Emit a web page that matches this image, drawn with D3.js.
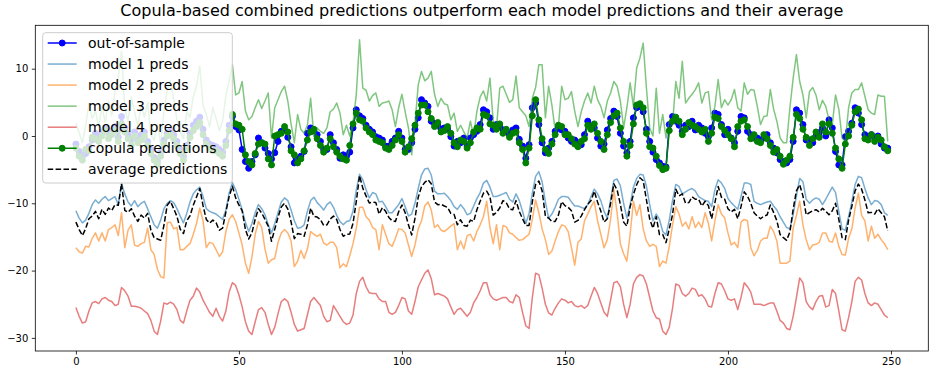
<!DOCTYPE html>
<html>
<head>
<meta charset="utf-8">
<script src="https://cdn.jsdelivr.net/npm/d3@7"></script>
<style>
  body { margin: 0; background: #fff; }
  svg { display: block; font-family: "DejaVu Sans", sans-serif; }
</style>
</head>
<body>
<div class="chart"></div>
<script>
// values, one per time step 0..249
const outOfSample = [
-1.2,-2.3,-3.0,-2.6,-1.6,-0.6,0.4,-0.2,0.6,1.2,
0.4,0.8,1.4,-0.2,2.9,1.2,0.2,-0.6,0.6,-0.4,
0.2,0.6,-0.8,-2.0,-3.2,-3.8,-2.4,-0.6,0.4,0.8,
0.2,-0.8,-2.0,-3.0,-1.4,0.4,1.6,2.2,2.8,1.0,
-0.6,-1.2,-1.4,-1.6,-2.0,-2.4,-0.8,1.6,2.9,1.4,
0.9,-2.0,-3.8,-4.8,-3.8,-2.8,-0.3,-1.0,-1.8,-2.6,
-3.4,-2.5,-0.8,0.7,0.9,-0.2,-1.6,-4.0,-3.4,-3.0,
-2.3,0.4,1.2,0.8,0.2,-0.8,-2.0,-2.0,0.2,-1.0,
-2.0,-3.3,-2.8,-3.0,-2.4,1.2,3.9,3.0,2.6,1.6,
1.0,0.6,-0.1,-0.3,-0.6,-1.5,-1.5,-0.8,-0.3,0.7,
-0.3,-2.0,-2.0,-1.0,1.0,2.7,5.4,4.9,4.4,2.2,
1.9,1.6,1.0,1.2,1.0,-0.1,-1.5,-0.8,-1.0,-0.3,
-1.5,-0.3,0.2,0.7,1.7,3.9,3.6,2.7,1.0,1.7,
1.4,0.9,0.7,0.2,0.9,1.2,-0.5,-1.5,-3.3,-1.3,
4.2,4.9,1.7,-1.0,-2.5,-1.8,-0.8,0.7,1.2,0.9,
0.7,-0.3,-0.8,-0.6,-1.0,-1.3,0.2,2.2,1.4,1.2,
-0.3,-1.5,-1.2,0.9,2.6,3.7,2.9,0.4,-1.5,-2.5,
-0.8,2.7,4.2,4.4,3.6,1.0,-0.8,-2.4,-3.5,-4.0,
-4.5,-4.6,1.7,2.9,2.2,1.6,0.7,1.6,1.4,2.2,
0.9,1.6,1.2,0.4,-0.1,1.2,3.4,3.2,1.7,0.2,
1.0,-0.3,-1.0,0.7,2.9,2.7,0.7,0.2,-0.3,-0.3,
-0.6,-0.3,0.2,-1.0,-1.8,-2.5,-3.5,-3.8,-4.0,-3.5,
-0.8,3.9,3.4,1.7,-0.6,-0.6,-1.0,0.0,0.5,1.2,
0.0,2.4,1.2,-2.3,-4.3,-4.3,-0.1,0.7,1.9,4.2,
3.4,1.7,0.2,-0.1,0.2,-0.3,0.0,-1.2,-1.8,-1.8
];

const model1 = [
-11.1,-12.2,-12.9,-12.5,-11.5,-10.2,-9.5,-10.0,-9.4,-9.0,
-9.6,-9.3,-9.0,-10.2,-7.1,-8.6,-9.8,-10.4,-9.6,-10.5,
-10.0,-9.7,-10.8,-12.0,-13.2,-13.7,-12.5,-10.8,-10.0,-9.6,
-9.9,-10.8,-11.9,-12.9,-11.5,-9.8,-8.6,-8.0,-7.6,-9.0,
-10.8,-11.2,-11.4,-11.6,-12.0,-12.4,-11.0,-8.5,-6.9,-8.0,
-9.4,-11.0,-12.8,-14.2,-13.0,-11.4,-10.2,-10.8,-11.7,-13.2,
-14.4,-13.0,-11.4,-9.8,-9.2,-9.6,-11.0,-12.6,-13.7,-13.6,
-13.2,-11.2,-9.6,-9.1,-9.9,-10.4,-11.0,-10.2,-9.8,-10.6,
-11.8,-12.7,-13.2,-12.7,-12.6,-11.2,-8.0,-5.7,-6.5,-8.0,
-9.2,-8.4,-8.6,-9.8,-9.7,-10.5,-11.4,-11.4,-10.8,-10.2,
-9.3,-10.5,-11.9,-11.6,-10.0,-7.8,-5.8,-4.9,-4.8,-5.8,
-8.2,-8.6,-8.6,-8.5,-9.0,-9.6,-10.5,-10.9,-10.2,-10.8,
-11.7,-11.5,-10.4,-9.3,-8.4,-7.0,-6.6,-7.6,-9.0,-9.0,
-8.8,-8.6,-8.4,-9.4,-9.8,-8.6,-9.6,-11.2,-13.0,-11.5,
-8.5,-6.0,-5.3,-6.8,-9.8,-12.2,-11.6,-10.6,-9.4,-9.0,
-9.0,-9.1,-9.8,-10.4,-10.4,-10.6,-10.8,-10.2,-9.0,-7.9,
-8.6,-9.6,-11.2,-12.2,-9.5,-6.6,-6.4,-7.4,-10.0,-12.2,
-10.2,-7.6,-6.3,-5.7,-5.8,-7.5,-10.2,-12.6,-11.6,-12.4,
-14.2,-14.7,-12.5,-9.6,-7.2,-7.5,-8.6,-8.3,-8.0,-7.8,
-8.2,-9.0,-9.3,-9.6,-9.7,-10.5,-8.0,-6.5,-7.0,-7.8,
-9.3,-9.9,-10.4,-10.9,-9.0,-7.0,-7.0,-7.2,-9.7,-10.0,
-10.2,-10.0,-9.8,-9.7,-10.4,-11.0,-12.0,-12.8,-13.6,-13.8,
-11.7,-8.9,-6.3,-6.8,-9.4,-10.0,-9.5,-9.2,-9.4,-10.2,
-9.4,-8.5,-7.6,-8.4,-11.2,-13.8,-14.0,-12.0,-9.8,-7.2,
-6.0,-6.2,-7.8,-9.2,-10.2,-9.6,-9.7,-10.2,-11.4,-11.8
];

const model2 = [
-16.6,-17.2,-17.4,-16.4,-16.5,-15.2,-14.4,-15.6,-14.4,-15.6,
-13.9,-13.6,-13.2,-14.8,-11.4,-16.6,-14.0,-13.2,-16.2,-16.4,
-16.0,-15.8,-13.7,-16.9,-17.6,-19.8,-20.9,-21.1,-12.9,-12.8,
-13.8,-13.6,-16.9,-16.9,-16.4,-16.0,-14.6,-13.0,-10.7,-12.6,
-16.6,-15.8,-16.0,-16.9,-17.9,-17.2,-14.2,-12.4,-11.7,-12.7,
-14.4,-16.2,-18.9,-20.4,-18.0,-14.6,-12.7,-13.6,-16.8,-18.9,
-18.4,-18.2,-15.8,-14.4,-13.9,-14.4,-15.6,-19.4,-18.6,-17.0,
-18.2,-16.8,-14.2,-14.6,-14.9,-14.6,-15.9,-16.2,-15.8,-15.8,
-16.6,-19.6,-19.0,-19.4,-17.8,-16.0,-13.7,-10.6,-10.6,-12.0,
-12.5,-13.6,-13.9,-16.9,-13.2,-14.6,-16.0,-16.4,-15.2,-13.8,
-13.9,-14.4,-16.2,-17.9,-16.2,-13.8,-12.6,-10.4,-9.8,-11.0,
-13.6,-13.2,-14.0,-14.2,-13.8,-13.4,-13.0,-16.9,-15.6,-16.8,
-14.8,-14.6,-15.6,-14.2,-13.2,-12.0,-9.7,-13.6,-16.0,-13.2,
-16.9,-13.3,-13.5,-14.4,-14.6,-15.1,-15.5,-15.4,-15.0,-14.6,
-12.4,-9.5,-11.4,-13.8,-15.4,-17.6,-17.1,-15.6,-14.2,-13.2,
-13.4,-14.2,-16.6,-19.2,-15.8,-15.3,-12.6,-11.6,-10.5,-9.7,
-12.6,-14.6,-16.6,-15.4,-12.4,-8.0,-11.4,-16.0,-17.5,-18.6,
-14.6,-9.7,-11.8,-10.2,-13.8,-15.6,-16.4,-16.1,-16.4,-19.4,
-18.6,-18.9,-16.4,-13.2,-10.5,-11.6,-13.4,-12.8,-13.8,-12.0,
-13.6,-12.8,-13.6,-11.4,-13.0,-15.6,-12.6,-10.2,-11.6,-12.2,
-14.4,-16.2,-15.8,-16.6,-12.8,-12.4,-12.6,-16.6,-17.8,-17.0,
-15.6,-15.2,-15.2,-13.4,-14.2,-15.6,-18.9,-18.9,-18.9,-18.6,
-13.7,-11.8,-9.7,-13.2,-15.4,-16.9,-16.2,-16.1,-15.8,-14.4,
-14.4,-15.6,-15.8,-14.4,-16.4,-17.6,-17.7,-15.2,-13.8,-10.7,
-8.5,-11.8,-12.6,-15.6,-13.4,-15.2,-14.6,-15.4,-16.0,-16.9
];

const model3 = [
1.9,0.5,-1.0,1.5,4.8,2.6,3.8,1.2,4.4,2.0,
5.2,3.0,6.6,8.8,12.6,4.0,2.2,5.8,3.6,1.4,
4.6,2.8,5.0,0.2,-0.6,1.8,-1.2,3.6,6.8,8.2,
5.4,2.4,0.8,-0.4,3.6,2.8,5.8,7.4,10.4,4.6,
3.2,1.4,4.2,2.6,0.8,2.2,6.0,8.2,10.6,6.1,
6.4,8.1,3.7,2.4,2.9,4.2,5.4,4.1,5.2,6.4,
-0.3,4.2,5.4,6.6,7.4,5.2,1.8,-1.0,3.2,1.0,
0.4,1.6,5.6,-0.1,1.2,0.7,0.4,1.2,3.6,4.0,
4.9,3.4,0.2,1.6,0.0,2.0,6.1,14.3,7.1,6.8,
5.2,6.0,6.4,4.4,4.9,5.0,5.2,3.9,1.4,4.2,
6.2,3.6,1.2,-2.8,1.8,7.6,9.6,8.2,8.6,9.6,
6.2,4.4,5.6,4.8,4.6,2.4,3.4,0.7,1.6,0.6,
-0.3,2.2,0.0,3.7,5.8,6.7,5.2,8.6,2.2,1.2,
7.1,7.4,6.2,5.0,5.4,8.9,4.2,3.6,3.0,1.4,
5.6,7.2,10.6,10.6,2.7,7.4,4.6,0.9,1.4,7.4,
5.4,5.6,6.6,3.7,1.4,3.6,5.2,6.4,4.9,7.4,
5.4,4.4,2.7,5.2,6.4,8.1,7.4,5.2,1.2,4.2,
7.9,4.4,10.1,11.6,13.8,7.1,1.2,0.0,7.1,0.4,
3.2,-0.3,2.2,1.7,8.1,5.6,11.1,4.9,5.6,6.2,
6.9,7.9,4.9,6.4,6.6,2.4,4.4,8.4,4.2,5.4,
4.6,5.4,6.9,4.2,3.7,7.9,6.2,6.9,6.8,4.4,
1.7,2.9,3.0,6.9,4.0,2.2,-0.3,-1.0,-1.0,4.2,
8.6,12.1,8.1,6.1,2.7,6.6,7.2,6.1,3.9,5.3,
4.4,2.4,1.7,6.1,4.0,-0.3,-0.8,4.2,6.4,6.9,
6.9,7.9,5.9,3.9,3.4,3.2,6.1,5.9,5.9,-0.8
];

const model4 = [
-25.5,-26.8,-27.8,-27.6,-26.0,-24.8,-24.6,-24.9,-24.2,-24.0,
-24.4,-24.6,-25.2,-25.0,-22.5,-23.0,-23.8,-25.3,-25.3,-25.4,
-25.6,-26.0,-26.4,-27.4,-29.0,-29.5,-27.5,-24.8,-25.0,-24.7,
-25.0,-25.8,-27.4,-27.8,-26.0,-24.4,-23.8,-22.6,-23.2,-24.4,
-25.3,-26.2,-26.8,-25.6,-26.8,-27.5,-26.0,-23.2,-21.8,-22.2,
-23.6,-25.4,-27.6,-29.0,-29.5,-27.6,-25.8,-25.5,-26.2,-28.0,
-29.5,-28.4,-26.4,-24.6,-24.2,-24.6,-26.2,-28.0,-29.0,-28.8,
-28.6,-26.6,-24.6,-24.0,-24.6,-25.2,-26.8,-27.6,-27.4,-25.2,
-26.0,-26.8,-27.6,-28.0,-27.8,-26.6,-23.4,-21.6,-21.0,-22.4,
-23.3,-23.4,-23.4,-24.2,-24.6,-24.6,-26.2,-26.5,-26.2,-25.2,
-24.0,-24.2,-26.0,-26.5,-24.6,-22.4,-21.4,-20.4,-19.9,-21.2,
-23.6,-23.4,-23.6,-23.8,-24.2,-25.4,-26.5,-25.8,-25.6,-26.2,
-26.8,-26.2,-24.8,-24.0,-23.0,-21.8,-21.8,-23.6,-24.2,-24.4,
-24.2,-24.0,-24.0,-24.6,-24.8,-23.6,-24.0,-26.2,-28.2,-28.6,
-24.0,-20.4,-20.6,-22.6,-25.0,-26.3,-26.6,-25.6,-24.8,-24.2,
-24.4,-24.8,-24.6,-25.2,-25.4,-25.2,-25.6,-25.2,-23.8,-22.5,
-23.4,-24.8,-26.2,-26.8,-24.4,-21.8,-21.6,-22.4,-25.0,-27.0,
-25.0,-22.0,-21.0,-20.6,-20.8,-22.0,-24.0,-26.0,-27.0,-27.2,
-29.0,-29.5,-28.4,-25.6,-22.0,-22.2,-23.4,-23.8,-23.4,-22.6,
-22.8,-23.8,-23.6,-24.2,-25.3,-25.4,-23.4,-21.8,-22.0,-23.0,
-24.2,-24.4,-24.2,-25.8,-24.0,-21.8,-22.4,-23.2,-25.0,-25.0,
-25.0,-25.2,-25.0,-24.8,-24.8,-26.0,-27.4,-27.8,-28.6,-28.8,
-26.8,-24.0,-21.1,-21.8,-24.6,-25.4,-25.8,-24.6,-23.8,-23.7,
-25.4,-25.2,-22.8,-23.4,-26.0,-28.8,-29.0,-27.0,-24.6,-21.6,
-21.0,-21.4,-23.4,-24.8,-25.2,-24.8,-25.0,-25.8,-26.6,-27.0
];

const copula = [
-1.8,-3.0,-3.6,-2.0,-2.2,-0.2,-0.4,-0.8,0.0,0.8,
-0.4,0.2,0.8,-0.8,1.8,0.6,-0.4,-1.4,0.0,-1.0,
-0.6,0.0,-1.4,-2.6,-3.6,-4.2,-3.0,-1.2,0.0,0.2,
-0.4,-1.4,-2.6,-3.6,-2.0,-0.2,0.8,1.4,2.0,0.2,
-1.2,-1.8,-2.2,-2.2,-2.6,-3.0,-1.4,0.8,3.2,1.8,
1.6,1.0,-2.8,-3.8,-4.3,-2.6,-1.2,-1.0,-1.2,-3.4,
-4.3,0.0,0.2,0.4,1.4,0.6,-2.2,-2.8,-4.0,-3.4,
-2.2,-0.6,0.6,1.0,-0.4,-1.4,-2.4,-1.8,-0.4,-1.6,
-2.4,-3.0,-3.4,-3.6,-1.4,1.8,3.4,2.4,2.2,1.2,
0.6,0.2,-0.6,-0.8,-1.0,-1.8,-2.0,-1.4,-0.6,0.2,
-0.8,-2.4,-1.6,-0.4,1.6,3.4,4.6,4.6,3.6,2.6,
1.4,2.0,0.6,0.8,1.4,0.4,-1.0,-1.6,-0.6,-0.8,
-1.8,-1.0,0.6,1.2,1.0,3.2,3.0,1.8,1.6,1.0,
1.8,0.4,1.0,-0.2,0.4,0.6,-1.0,-2.0,-4.0,-1.8,
3.0,5.4,2.4,-0.4,-2.0,-2.6,-1.2,0.2,1.6,1.4,
0.2,0.2,-0.4,-1.2,-1.6,-0.8,-0.4,1.6,1.0,1.8,
0.4,-0.8,-2.0,0.2,2.0,3.0,3.4,1.2,-0.8,-3.0,
-1.4,1.8,4.6,4.8,4.2,0.4,-1.6,-1.8,-3.0,-4.4,
-5.0,-4.8,0.8,2.2,2.8,2.2,0.2,1.0,2.0,1.6,
1.4,1.0,0.6,1.0,-0.8,0.4,2.8,2.6,1.4,0.8,
0.2,-0.4,-1.6,1.4,2.2,2.4,1.4,-0.4,0.2,-0.8,
-1.0,0.2,-0.4,-1.4,-2.4,-2.0,-3.0,-4.2,-3.6,-3.0,
-0.2,3.2,2.6,1.0,-0.2,-1.4,-0.4,0.6,-0.2,1.8,
0.6,1.8,0.4,-1.8,-3.4,-4.8,-1.2,0.0,1.6,3.6,
4.0,2.4,-0.4,-0.6,0.2,-0.8,-0.2,-0.6,-1.6,-2.2
];

const average = [
-12.8,-13.9,-14.8,-13.75,-12.3,-11.9,-11.2,-12.3,-10.9,-11.65,
-10.7,-11.1,-10.2,-10.3,-7.1,-11.05,-11.35,-10.8,-11.9,-12.7,
-11.75,-12.2,-11.5,-14.0,-15.1,-15.3,-15.5,-13.3,-10.3,-9.7,
-10.8,-11.95,-13.85,-14.5,-12.6,-11.85,-10.3,-9.05,-7.8,-10.35,
-12.4,-12.95,-12.5,-12.9,-14.0,-13.7,-11.3,-9.0,-7.45,-9.2,
-10.25,-11.1,-13.9,-15.3,-14.4,-12.35,-10.8,-11.45,-12.4,-13.4,
-15.65,-13.85,-12.05,-10.55,-10.0,-10.85,-12.75,-15.25,-14.5,-14.6,
-14.9,-13.25,-10.7,-11.95,-12.05,-12.4,-13.3,-13.2,-12.35,-11.9,
-12.4,-13.9,-14.9,-14.6,-14.55,-12.95,-9.75,-5.9,-7.75,-8.9,
-9.95,-9.85,-9.9,-11.6,-10.65,-11.2,-12.1,-12.6,-12.7,-11.25,
-10.25,-11.4,-13.2,-14.7,-12.25,-9.1,-7.55,-6.9,-6.5,-7.1,
-9.8,-10.2,-10.15,-10.4,-10.6,-11.5,-11.65,-13.2,-12.45,-13.3,
-13.4,-12.5,-12.7,-10.95,-9.7,-8.5,-8.2,-9.05,-11.75,-11.35,
-10.7,-9.6,-9.9,-10.85,-10.95,-9.6,-11.2,-12.3,-13.3,-13.3,
-9.8,-7.2,-6.7,-8.15,-11.9,-12.2,-12.7,-12.7,-11.75,-9.75,
-10.35,-10.6,-11.1,-12.8,-12.55,-11.9,-10.95,-10.15,-9.6,-8.2,
-9.8,-11.15,-12.8,-12.3,-10.0,-7.1,-8.0,-10.15,-12.8,-13.4,
-10.5,-8.7,-7.25,-6.2,-6.65,-9.5,-12.35,-13.7,-12.0,-14.65,
-14.65,-15.85,-13.8,-11.7,-7.9,-8.9,-8.6,-10.0,-9.9,-9.05,
-9.4,-9.4,-10.4,-9.7,-10.35,-12.3,-9.9,-7.5,-9.1,-9.4,
-10.8,-11.3,-10.9,-12.3,-10.5,-8.3,-8.95,-10.0,-11.4,-11.9,
-12.3,-11.9,-11.75,-10.25,-11.35,-12.6,-14.65,-15.1,-15.5,-14.25,
-10.9,-8.15,-7.25,-8.9,-11.7,-11.4,-11.1,-10.95,-11.3,-10.75,
-11.2,-11.7,-11.1,-10.0,-12.4,-15.1,-15.4,-12.5,-10.45,-8.15,
-7.15,-7.9,-9.5,-11.4,-11.35,-11.6,-10.8,-11.4,-12.0,-14.1
];

const xTicks = [0, 50, 100, 150, 200, 250];
const yTicks = [-30, -20, -10, 0, 10];

const title = "Copula-based combined predictions outperform each model predictions and their average";

const series = [
    { name: "out-of-sample", values: outOfSample, color: "#0000ff", opacity: 1, dots: true, dash: null },
    { name: "model 1 preds", values: model1, color: "#1f77b4", opacity: 0.6, dots: false, dash: null },
    { name: "model 2 preds", values: model2, color: "#ff7f0e", opacity: 0.6, dots: false, dash: null },
    { name: "model 3 preds", values: model3, color: "#2ca02c", opacity: 0.6, dots: false, dash: null },
    { name: "model 4 preds", values: model4, color: "#d62728", opacity: 0.6, dots: false, dash: null },
    { name: "copula predictions", values: copula, color: "#008000", opacity: 1, dots: true, dash: null },
    { name: "average predictions", values: average, color: "#000000", opacity: 1, dots: false, dash: "5.5,2.4" }
];

const svgW = 935;
const svgH = 375;
const plot = { left: 35.3, right: 928.3, top: 25.3, bottom: 351 };

const xScale = d3.scaleLinear()
    .domain([-12.45, 261.45])
    .range([plot.left, plot.right]);

const yScale = d3.scaleLinear()
    .domain([-31.95, 16.45])
    .range([plot.bottom, plot.top]);

const svg = d3.select(".chart")
    .append("svg")
    .attr("width", svgW)
    .attr("height", svgH);

const line = d3.line()
    .x((d, i) => xScale(i))
    .y(d => yScale(d));

series.forEach(s => {
    svg.append("path")
        .datum(s.values)
        .attr("d", line)
        .attr("fill", "none")
        .attr("stroke", s.color)
        .attr("stroke-opacity", s.opacity)
        .attr("stroke-width", 1.5)
        .attr("stroke-linejoin", "round")
        .attr("stroke-dasharray", s.dash);

    if (s.dots) {
        svg.append("g")
            .selectAll("circle")
            .data(s.values)
            .enter()
            .append("circle")
            .attr("cx", (d, i) => xScale(i))
            .attr("cy", d => yScale(d))
            .attr("r", 3)
            .attr("fill", s.color)
            .attr("stroke", s.color)
            .attr("stroke-width", 1);
    }
});

// axes
const xAxis = svg.append("g")
    .attr("transform", `translate(0, ${plot.bottom})`)
    .call(d3.axisBottom(xScale).tickValues(xTicks).tickSize(3.5).tickPadding(3.5).tickSizeOuter(0));

const yAxis = svg.append("g")
    .attr("transform", `translate(${plot.left}, 0)`)
    .call(d3.axisLeft(yScale).tickValues(yTicks).tickSize(3.5).tickPadding(3.5).tickSizeOuter(0));

[xAxis, yAxis].forEach(a => {
    a.select(".domain").remove();
    a.selectAll("line").attr("stroke", "#000").attr("stroke-width", 0.8);
    a.selectAll("text")
        .style("font-family", "DejaVu Sans")
        .style("font-size", "10px")
        .attr("fill", "#000");
});

svg.append("rect")
    .attr("x", plot.left)
    .attr("y", plot.top)
    .attr("width", plot.right - plot.left)
    .attr("height", plot.bottom - plot.top)
    .attr("fill", "none")
    .attr("stroke", "#000")
    .attr("stroke-width", 0.8);

svg.append("text")
    .text(title)
    .attr("x", (plot.left + plot.right) / 2)
    .attr("y", 16)
    .style("text-anchor", "middle")
    .style("font-size", "16px")
    .attr("fill", "#000");

// legend
const legend = svg.append("g").attr("transform", "translate(42.7, 32.7)");

legend.append("rect")
    .attr("width", 189.6)
    .attr("height", 150.3)
    .attr("rx", 3)
    .attr("fill", "#fff")
    .attr("fill-opacity", 0.8)
    .attr("stroke", "#ccc")
    .attr("stroke-width", 1);

const rowH = 21.05;

series.forEach((s, i) => {
    const cy = 10.3 + i * rowH;
    legend.append("line")
        .attr("x1", 5)
        .attr("x2", 34)
        .attr("y1", cy)
        .attr("y2", cy)
        .attr("stroke", s.color)
        .attr("stroke-opacity", s.opacity)
        .attr("stroke-width", 1.5)
        .attr("stroke-dasharray", s.dash);
    if (s.dots) {
        legend.append("circle")
            .attr("cx", 19.5)
            .attr("cy", cy)
            .attr("r", 3)
            .attr("fill", s.color)
            .attr("stroke", s.color);
    }
    legend.append("text")
        .text(s.name)
        .attr("x", 45.3)
        .attr("y", cy + 5)
        .style("font-size", "14px")
        .attr("fill", "#000");
});
</script>
</body>
</html>
